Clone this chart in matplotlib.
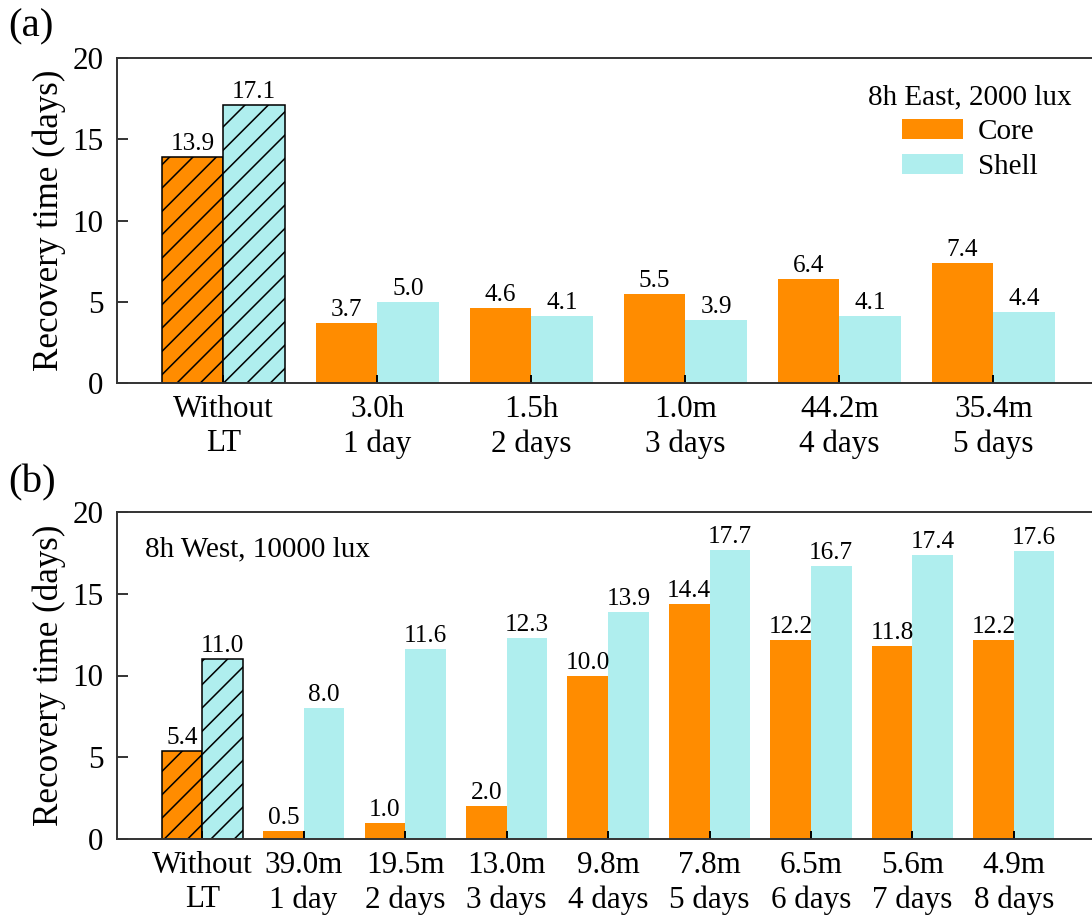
import matplotlib
matplotlib.use("Agg")
import matplotlib.pyplot as plt
from matplotlib.patches import Patch
import numpy as np

plt.rcParams["font.family"] = ["Liberation Serif", "DejaVu Serif"]
plt.rcParams["hatch.linewidth"] = 0.8

CORE = "#FF8C00"
SHELL = "#AFEEEE"
SPINE = "#333333"

# panel (a): 8h East, 2000 lux
labels_a = ["Without\nLT", "3.0h\n1 day", "1.5h\n2 days", "1.0m\n3 days",
            "44.2m\n4 days", "35.4m\n5 days"]
core_a = [13.9, 3.7, 4.6, 5.5, 6.4, 7.4]
shell_a = [17.1, 5.0, 4.1, 3.9, 4.1, 4.4]

# panel (b): 8h West, 10000 lux
labels_b = ["Without\nLT", "39.0m\n1 day", "19.5m\n2 days", "13.0m\n3 days",
            "9.8m\n4 days", "7.8m\n5 days", "6.5m\n6 days", "5.6m\n7 days",
            "4.9m\n8 days"]
core_b = [5.4, 0.5, 1.0, 2.0, 10.0, 14.4, 12.2, 11.8, 12.2]
shell_b = [11.0, 8.0, 11.6, 12.3, 13.9, 17.7, 16.7, 17.4, 17.6]

fig = plt.figure(figsize=(7.8, 915 / 140), dpi=140)
ax_a = fig.add_axes([117 / 1092, 1 - 383 / 915, 1 - 117 / 1092, (383 - 58) / 915])
ax_b = fig.add_axes([117 / 1092, 1 - 839 / 915, 1 - 117 / 1092, (839 - 512) / 915])


def draw_panel(ax, labels, core, shell, xlim):
    x = np.arange(len(labels))
    w = 0.4
    bc = ax.bar(x - w / 2, core, w, color=CORE, linewidth=0)
    bs = ax.bar(x + w / 2, shell, w, color=SHELL, linewidth=0)
    # baseline case gets outlined, hatched bars
    for b in (bc[0], bs[0]):
        b.set_edgecolor("black")
        b.set_linewidth(0.8)
        b.set_hatch("//")
    ax.bar_label(bc, labels=[f"{v:.1f}" for v in core], padding=1, fontsize=13)
    ax.bar_label(bs, labels=[f"{v:.1f}" for v in shell], padding=1, fontsize=13)

    ax.set_xlim(*xlim)
    ax.set_ylim(0, 20)
    ax.set_yticks([0, 5, 10, 15, 20])
    ax.set_xticks(x)
    ax.set_xticklabels(labels, linespacing=1.25)
    ax.set_ylabel("Recovery time (days)", fontsize=18, labelpad=3)
    ax.tick_params(axis="y", direction="in", length=5.5, width=1.0,
                   color=SPINE, labelsize=16, pad=7)
    ax.tick_params(axis="x", direction="in", length=4, width=1.0,
                   color="black", labelsize=16, pad=6)
    ax.spines["right"].set_visible(False)
    for s in ("left", "top", "bottom"):
        ax.spines[s].set_color(SPINE)
        ax.spines[s].set_linewidth(1.0)


draw_panel(ax_a, labels_a, core_a, shell_a, (-0.69, 5.64))
draw_panel(ax_b, labels_b, core_b, shell_b, (-0.84, 8.77))

handles = [Patch(facecolor=CORE, label="Core"), Patch(facecolor=SHELL, label="Shell")]
ax_a.legend(handles=handles, title="8h East, 2000 lux", loc="upper right",
            bbox_to_anchor=(0.979, 0.92), frameon=False, fontsize=15,
            title_fontsize=15, handlelength=2.1, handleheight=0.7,
            handletextpad=0.5, labelspacing=0.3, borderpad=0, borderaxespad=0)

ax_b.text(0.029, 0.887, "8h West, 10000 lux", transform=ax_b.transAxes,
          fontsize=15, ha="left", va="center")

fig.text(8 / 1092, 1 - 8 / 915, "(a)", fontsize=21, ha="left", va="top")
fig.text(8 / 1092, 1 - 464 / 915, "(b)", fontsize=21, ha="left", va="top")

fig.savefig("out.png", dpi=140)
